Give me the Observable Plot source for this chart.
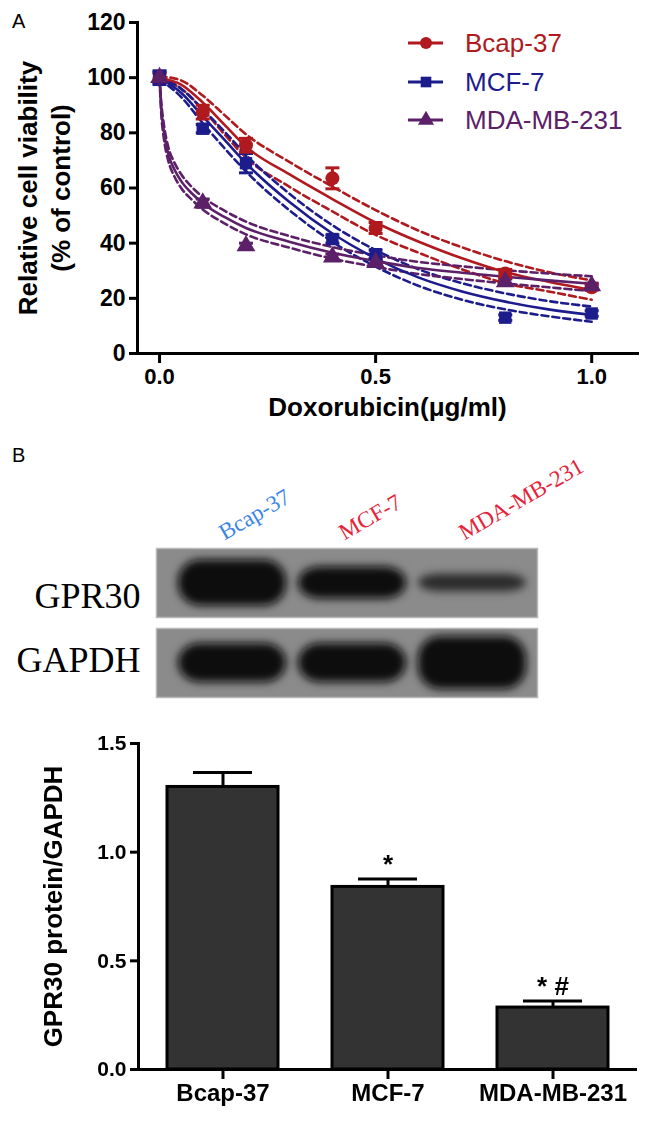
<!DOCTYPE html>
<html>
<head>
<meta charset="utf-8">
<script src="https://cdn.jsdelivr.net/npm/d3@7"></script>
<script src="https://cdn.jsdelivr.net/npm/@observablehq/plot@0.6"></script>
<style>
html,body{margin:0;padding:0;background:#fff;}
#root{position:relative;width:648px;height:1121px;overflow:hidden;background:#fff;font-family:"Liberation Sans",Arial,sans-serif;}
.lab{position:absolute;font-size:20px;line-height:1;color:#000;}
.part{position:absolute;left:0;}
.part svg{display:block;overflow:visible;}
#legend{position:absolute;left:405px;top:24px;}
.lg-row{display:flex;align-items:center;height:38.5px;}
.lg-row span{font-size:26px;margin-left:20px;line-height:1;}
.lg-row svg{display:block;}
</style>
</head>
<body>
<div id="root">
  <div class="part" id="panelA" style="top:0"></div>
  <div class="part" id="blot" style="top:470px"></div>
  <div class="part" id="bars" style="top:700px"></div>
  <div id="legend"></div>
  <div class="lab" style="left:12px;top:11px">A</div>
  <div class="lab" style="left:12px;top:445px">B</div>
</div>
<script>
// ---------------- Panel A data ----------------
const series = ["Bcap-37", "MCF-7", "MDA-MB-231"];
const seriesColors = ["#B0191E", "#1C1C8C", "#5C2068"];
const seriesSymbols = ["circle", "square", "triangle"];

const doses = [0, 0.1, 0.2, 0.4, 0.5, 0.8, 1.0];
const bcapMean = [100, 87.5, 75.5, 63.5, 45.5, 29, 24];
const bcapErr  = [2, 2.5, 2.5, 3.8, 2, 1.5, 1];
const mcfMean  = [100, 81.5, 69, 41.5, 36, 13, 14.5];
const mcfErr   = [2.5, 1.5, 3.5, 1.5, 1.5, 1, 1];
const mdaMean  = [100, 54.5, 39, 35, 33, 26, 24.5];
const mdaErr   = [1.5, 1.5, 1, 1, 1, 1, 1];

// fitted curves and 95% bands
const fitDose   = [0, 0.05, 0.1, 0.15, 0.2, 0.3, 0.4, 0.5, 0.6, 0.7, 0.8, 0.9, 1.0];
const bcapFit   = [100, 97.5, 91, 83, 75, 65, 56, 47.5, 40.5, 34.5, 29.5, 26, 23];
const bcapUpper = [100.5, 99, 93.5, 86.5, 79.5, 69.5, 60.5, 52, 44.5, 38.5, 33.5, 29.5, 26.5];
const bcapLower = [99.5, 96, 88.5, 79.5, 71, 60.5, 51.5, 43, 36.5, 30.5, 25.5, 22.5, 19.5];
const mcfFit    = [100, 94.5, 86, 77.5, 69, 55, 43.5, 34.5, 27.5, 22.5, 18.8, 16, 14];
const mcfUpper  = [100.5, 96, 88.5, 80.5, 72, 58, 46.5, 37.5, 30.5, 25.5, 21.8, 19, 17];
const mcfLower  = [99.5, 93, 83.5, 74.5, 66, 52, 40.5, 31.5, 24.5, 19.5, 16, 13.5, 11.5];
const mdaFitDose = [0, 0.004, 0.01, 0.02, 0.035, 0.05, 0.075, 0.1, 0.15, 0.2, 0.3, 0.4, 0.5, 0.6, 0.7, 0.8, 0.9, 1.0];
const mdaFit    = [100, 89, 80.5, 72.5, 66.5, 62.5, 58, 54.5, 49.5, 45.5, 40.5, 36.5, 33.5, 31, 29.3, 27.8, 26.5, 25.3];
const mdaUpper  = [100.5, 91, 83, 75, 69, 65, 60.3, 56.8, 51.8, 47.8, 42.6, 38.6, 35.6, 33.2, 31.6, 30.2, 29, 28];
const mdaLower  = [99.5, 87, 78, 70, 64, 60, 55.7, 52.2, 47.2, 43.2, 38.4, 34.4, 31.4, 28.8, 27, 25.4, 24, 22.6];

const yTicksA = [0, 20, 40, 60, 80, 100, 120];
const xTicksA = [0, 0.5, 1.0];
const xTitleA = "Doxorubicin(μg/ml)";
const yTitleA = "Relative cell viability\n(% of control)";

// ---------------- Panel B data ----------------
const blotLanes = ["Bcap-37", "MCF-7", "MDA-MB-231"];
const blotLaneColors = ["#3A86E4", "#E4243A", "#E4243A"];
const blotRows = ["GPR30", "GAPDH"];
const gpr30Band = [1.0, 0.70, 0.38];
const gapdhBand = [0.85, 0.85, 1.15];

const barCats  = ["Bcap-37", "MCF-7", "MDA-MB-231"];
const barMeans = [1.30, 0.84, 0.285];
const barErrs  = [0.067, 0.037, 0.030];
const barSig   = ["", "*", "* #"];
const yTicksB  = [0, 0.5, 1.0, 1.5];
const yTitleB  = "GPR30 protein/GAPDH";

// ---------------- build tables ----------------
const means = [bcapMean, mcfMean, mdaMean];
const errs = [bcapErr, mcfErr, mdaErr];
const points = series.flatMap((s, i) => doses.map((d, j) => ({series: s, dose: d, mean: means[i][j], err: errs[i][j]})));

const fitSets = [
  {s: series[0], x: fitDose, fit: bcapFit, up: bcapUpper, lo: bcapLower},
  {s: series[1], x: fitDose, fit: mcfFit, up: mcfUpper, lo: mcfLower},
  {s: series[2], x: mdaFitDose, fit: mdaFit, up: mdaUpper, lo: mdaLower}
];
const fitRows = fitSets.flatMap(f => f.x.map((x, j) => ({series: f.s, dose: x, v: f.fit[j]})));
const ciRows = fitSets.flatMap(f => [
  ...f.x.map((x, j) => ({series: f.s, key: f.s + "-up", dose: x, v: f.up[j]})),
  ...f.x.map((x, j) => ({series: f.s, key: f.s + "-lo", dose: x, v: f.lo[j]}))
]);

const sans = '"Liberation Sans", Arial, Helvetica, sans-serif';
const serif = '"Liberation Serif", "Times New Roman", serif';
const capSymbol = {draw(ctx, size) { const r = Math.sqrt(size / Math.PI); ctx.moveTo(-r, 0); ctx.lineTo(r, 0); }};

// ---------------- Panel A ----------------
const plotA = Plot.plot({
  width: 648, height: 440,
  marginTop: 22, marginBottom: 87, marginLeft: 137, marginRight: 11,
  style: {fontFamily: sans, fontSize: "22px", color: "#000", background: "transparent", overflow: "visible"},
  x: {domain: [-0.051, 1.106]},
  y: {domain: [0, 120]},
  color: {domain: series, range: seriesColors},
  symbol: {domain: series, range: seriesSymbols},
  marks: [
    Plot.line(ciRows, {x: "dose", y: "v", z: "key", stroke: "series", strokeWidth: 2.6, strokeDasharray: "7,4", curve: "monotone-x"}),
    Plot.line(fitRows, {x: "dose", y: "v", z: "series", stroke: "series", strokeWidth: 2.6, curve: "monotone-x"}),
    Plot.ruleX(points, {x: "dose", y1: d => d.mean - d.err, y2: d => d.mean + d.err, stroke: "series", strokeWidth: 3}),
    Plot.dot(points, {x: "dose", y: d => d.mean + d.err, symbol: capSymbol, r: 7, stroke: "series", fill: "none", strokeWidth: 3}),
    Plot.dot(points, {x: "dose", y: d => d.mean - d.err, symbol: capSymbol, r: 7, stroke: "series", fill: "none", strokeWidth: 3}),
    Plot.dot(points, {x: "dose", y: "mean", symbol: "series", fill: "series", r: 7}),
    Plot.axisY({ticks: yTicksA, tickSize: 8, tickPadding: 4, strokeWidth: 3, fontSize: 23, fontWeight: "bold", label: null}),
    Plot.axisX({ticks: xTicksA, tickFormat: d3.format(".1f"), tickSize: 10, tickPadding: 5, strokeWidth: 3, fontSize: 22, fontWeight: "bold", label: null}),
    Plot.frame({anchor: "left", strokeWidth: 3}),
    Plot.frame({anchor: "bottom", strokeWidth: 3}),
    Plot.text([xTitleA], {text: d => d, frameAnchor: "bottom", textAnchor: "middle", dy: 62, fontSize: 26, fontWeight: "bold"}),
    Plot.text([yTitleA], {text: d => d, frameAnchor: "left", textAnchor: "middle", lineAnchor: "middle", rotate: -90, dx: -94.5, fontSize: 26, fontWeight: "bold", lineHeight: 1.27})
  ]
});
document.getElementById("panelA").appendChild(plotA);

// legend
const legend = d3.select("#legend");
series.forEach((s, i) => {
  const row = legend.append("div").attr("class", "lg-row");
  const sv = row.append("svg").attr("width", 40).attr("height", 20);
  sv.append("line").attr("x1", 3).attr("x2", 38).attr("y1", 10).attr("y2", 10).attr("stroke", seriesColors[i]).attr("stroke-width", 3);
  const type = [d3.symbolCircle, d3.symbolSquare, d3.symbolTriangle][i];
  sv.append("path").attr("transform", "translate(21,10)").attr("d", d3.symbol(type, Math.PI * 36)()).attr("fill", seriesColors[i]);
  row.append("span").style("color", seriesColors[i]).text(s);
});

// ---------------- Western blot ----------------
const bandRows = [
  ...blotLanes.map((l, i) => ({lane: l, row: "GPR30", amount: gpr30Band[i]})),
  ...blotLanes.map((l, i) => ({lane: l, row: "GAPDH", amount: gapdhBand[i]}))
];
const blot = Plot.plot({
  width: 648, height: 230,
  marginTop: 78, marginBottom: 3, marginLeft: 156, marginRight: 111,
  style: {fontFamily: serif, background: "transparent", overflow: "visible"},
  x: {domain: blotLanes, paddingInner: 0, paddingOuter: 0.0875, align: 0.76, axis: null},
  y: {domain: [-1.5, 1.5], axis: null},
  fy: {domain: blotRows, paddingInner: 0.1375, paddingOuter: 0, axis: null},
  opacity: {domain: [0, 0.55], clamp: true},
  marks: [
    Plot.frame({fill: "#8b8b8b", stroke: "#b8b8b8", strokeWidth: 1.5}),
    Plot.barY(bandRows, {x: "lane", fy: "row", y1: d => -d.amount, y2: d => d.amount, fill: "#080808", fillOpacity: "amount", insetLeft: 6, insetRight: 6, rx: 22}),
    Plot.text(["GPR30"], {text: d => d, fy: d => d, frameAnchor: "left", textAnchor: "end", lineAnchor: "bottom", dx: -16, dy: 25, fontSize: 36}),
    Plot.text(["GAPDH"], {text: d => d, fy: d => d, frameAnchor: "left", textAnchor: "end", lineAnchor: "bottom", dx: -16, dy: 9, fontSize: 36}),
    Plot.text(blotLanes, {x: d => d, fy: () => "GPR30", text: d => d, frameAnchor: "top", textAnchor: "start", lineAnchor: "bottom", rotate: -30, dx: -8, dy: -8, fontSize: 23, fill: (d, i) => blotLaneColors[i]})
  ]
});
document.getElementById("blot").appendChild(blot);
{
  const svg = d3.select(blot.tagName === "svg" ? blot : blot.querySelector("svg"));
  svg.insert("defs", ":first-child").html('<filter id="bandBlur" x="-30%" y="-60%" width="160%" height="220%"><feGaussianBlur stdDeviation="4"/></filter>');
  svg.selectAll('g[aria-label="bar"]').attr("filter", "url(#bandBlur)");
}

// ---------------- Bar chart ----------------
const bars = barCats.map((c, i) => ({cat: c, mean: barMeans[i], err: barErrs[i], sig: barSig[i]}));
const plotB = Plot.plot({
  width: 648, height: 421,
  marginTop: 43, marginBottom: 52, marginLeft: 138, marginRight: 11,
  style: {fontFamily: sans, fontSize: "22px", color: "#000", background: "transparent", overflow: "visible"},
  x: {domain: barCats, paddingInner: 0.33, paddingOuter: 0.172},
  y: {domain: [0, 1.5]},
  marks: [
    Plot.ruleX(bars, {x: "cat", y1: "mean", y2: d => d.mean + d.err, strokeWidth: 3}),
    Plot.tickY(bars, {x: "cat", y: d => d.mean + d.err, strokeWidth: 3, insetLeft: 26, insetRight: 26}),
    Plot.barY(bars, {x: "cat", y: "mean", fill: "#333333", stroke: "#000", strokeWidth: 3}),
    Plot.text(bars, {x: "cat", y: d => d.mean + d.err, text: "sig", lineAnchor: "bottom", dy: -6, fontSize: 26, fontWeight: "bold"}),
    Plot.axisY({ticks: yTicksB, tickFormat: d3.format(".1f"), tickSize: 8, tickPadding: 4, strokeWidth: 3, fontSize: 21, fontWeight: "bold", label: null}),
    Plot.axisX({tickSize: 10, tickPadding: 4, strokeWidth: 3, fontSize: 24, fontWeight: "bold", label: null}),
    Plot.frame({anchor: "left", strokeWidth: 3}),
    Plot.ruleY([0], {strokeWidth: 3}),
    Plot.text([yTitleB], {text: d => d, frameAnchor: "left", textAnchor: "middle", lineAnchor: "middle", rotate: -90, dx: -85, fontSize: 26, fontWeight: "bold"})
  ]
});
document.getElementById("bars").appendChild(plotB);
</script>
</body>
</html>
